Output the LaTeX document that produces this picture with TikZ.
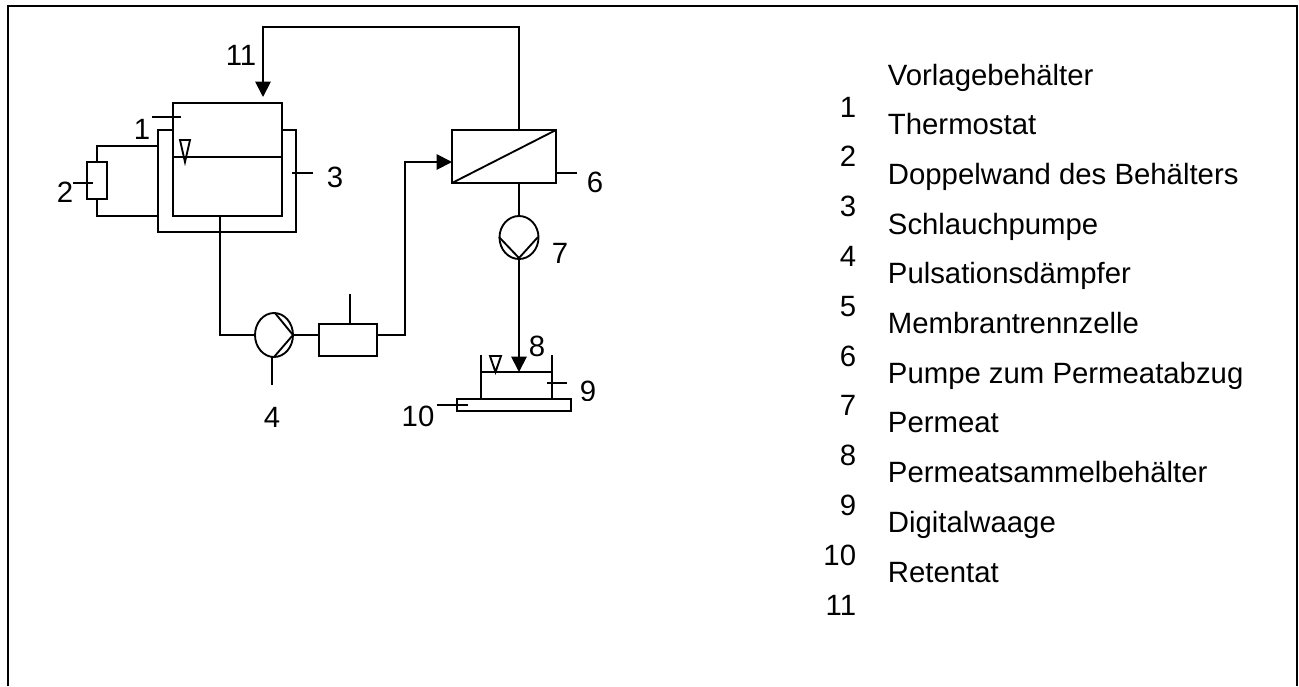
\documentclass[tikz,border=0pt]{standalone}
\usepackage{fontspec}
\setmainfont{Liberation Sans}
\usetikzlibrary{arrows.meta,shapes.geometric}
\tikzset{
  box/.style={draw,rectangle,inner sep=0pt,outer sep=0pt},
  pump/.style={draw,ellipse,inner sep=0pt,outer sep=0pt},
  num/.style={inner sep=0pt,font=\fontsize{22}{22}\selectfont},
  txt/.style={inner sep=0pt,anchor=base west,font=\fontsize{22}{22}\selectfont},
  flow/.style={-{Triangle[length=11.5pt,width=11.5pt]}},
}
\begin{document}
\begin{tikzpicture}[x=0.75pt,y=-0.75pt,line width=1.4pt]
  \useasboundingbox (0,0) rectangle (1299,686);
  \draw[line width=1.7pt] (8,686) -- (8,6) -- (1297,6) -- (1297,686);
  % tank and jacket
  \node[box,minimum width=81.75pt,minimum height=84.75pt] (tank) at (227.5,159.5) {};
  \coordinate (jl) at (158,130);
  \coordinate (jr) at (296,130);
  \coordinate (jb) at (220,232);
  \draw (tank.west |- jl) -- (jl) -- (158,232) -- (296,232) -- (jr) -- (tank.east |- jr);
  \draw (173,157) -- (282,157);
  \draw (180,140) -- (190,140) -- (185,162) -- cycle;
  % thermostat
  \node[box,minimum width=15pt,minimum height=27.75pt] (therm) at (97,180.5) {};
  \draw (therm.north) -- (97,146) -- (158,146);
  \draw (therm.south) -- (97,216) -- (158,216);
  % feed pump, damper, membrane
  \node[pump,minimum width=28.5pt,minimum height=33pt] (pump4) at (274,335) {};
  \node[box,minimum width=43.5pt,minimum height=24pt] (damper) at (348,340) {};
  \node[box,minimum width=78pt,minimum height=39.75pt] (cell) at (504,156.5) {};
  \draw (275,313) -- (pump4.east) -- (274,357);
  \draw (tank.south -| jb) -- (220,335) -- (pump4.west);
  \draw (pump4.east) -- (damper.west |- pump4.east);
  \draw (272,357) -- (272,385);
  \draw (350,324) -- (350,294);
  \draw[flow] (damper.east |- pump4.east) -- (405,335) -- (405,162) -- (cell.west |- 405,162);
  \draw (cell.south west) -- (cell.north east);
  % return line
  \coordinate (ret) at (263,27);
  \draw[flow] (519,130) -- (519,27) -- (ret) -- (263,97);
  % permeate side
  \node[pump,minimum width=29.25pt,minimum height=32.25pt] (pump7) at (519,237.5) {};
  \node[box,minimum width=85.5pt,minimum height=9pt] (scale) at (514,405) {};
  \draw (cell.south -| pump7) -- (pump7.north);
  \draw (499,237) -- (519,258) -- (538,237);
  \draw[flow] (pump7.south) -- (519,372);
  \draw (481,355) -- (481,399);
  \draw (552,355) -- (552,399);
  \draw (481,372) -- (552,372);
  \draw (490,356) -- (501,356) -- (495.5,372) -- cycle;
  % leader lines
  \draw (152,117) -- (181,117);
  \draw (73,183) -- (93,183);
  \draw (292,173) -- (313,173);
  \draw (556,173) -- (577,173);
  \draw (547,383) -- (567,383);
  \draw (437,405) -- (468,405);
  % numbers at the parts
  \node[num] (n1) at (142,129) {1};
  \node[num] (n2) at (65,192) {2};
  \node[num] (n3) at (335,177) {3};
  \node[num] (n4) at (272,417) {4};
  \node[num] (n6) at (595,182) {6};
  \node[num] (n7) at (560,253) {7};
  \node[num] (n8) at (537,346) {8};
  \begin{scope}
    \clip (570,370) rectangle (610,400);
    \node[num] (n9) at (588,391) {9};
  \end{scope}
  \node[num] (n10) at (418,416) {10};
  \node[num] (n11) at (241,55) {11};
  % legend
  \foreach \i/\t in {0/Vorlagebehälter,1/Thermostat,2/Doppelwand des Behälters,3/Schlauchpumpe,4/Pulsationsdämpfer,5/Membrantrennzelle,6/Pumpe zum Permeatabzug,7/Permeat,8/Permeatsammelbehälter,9/Digitalwaage,10/Retentat}
    \node[txt] (t\i) at (887,{85+\i*49.7}) {\t};
  \foreach \i in {1,...,11}
    \node[num,anchor=base east] (k\i) at (857,{117+(\i-1)*49.8}) {\i};
\end{tikzpicture}
\end{document}
